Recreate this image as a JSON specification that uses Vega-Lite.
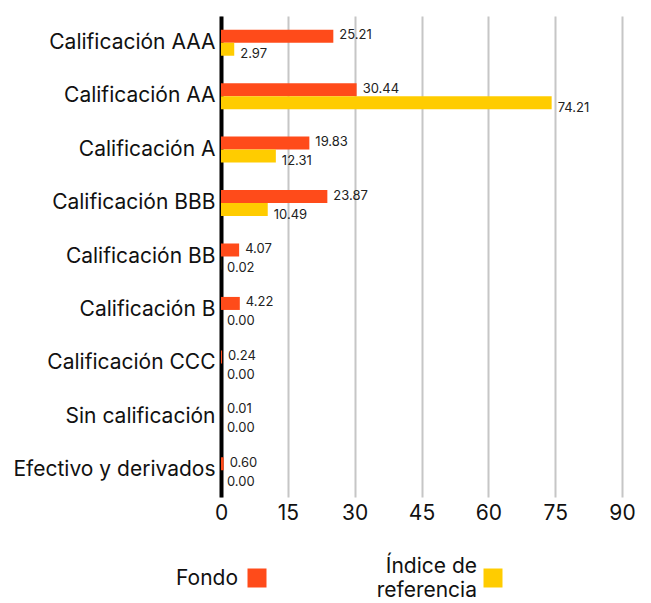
{
  "$schema": "https://vega.github.io/schema/vega-lite/v6.json",
  "padding": {"left": 10, "top": 16, "right": 0, "bottom": 0},
  "config": {
    "view": {"stroke": null},
    "font": "Inter",
    "concat": {"spacing": 26}
  },
  "datasets": {
    "d": [
      {"cat": "Calificación AAA", "serie": "Fondo", "value": 25.21},
      {"cat": "Calificación AAA", "serie": "Índice de referencia", "value": 2.97},
      {"cat": "Calificación AA", "serie": "Fondo", "value": 30.44},
      {"cat": "Calificación AA", "serie": "Índice de referencia", "value": 74.21},
      {"cat": "Calificación A", "serie": "Fondo", "value": 19.83},
      {"cat": "Calificación A", "serie": "Índice de referencia", "value": 12.31},
      {"cat": "Calificación BBB", "serie": "Fondo", "value": 23.87},
      {"cat": "Calificación BBB", "serie": "Índice de referencia", "value": 10.49},
      {"cat": "Calificación BB", "serie": "Fondo", "value": 4.07},
      {"cat": "Calificación BB", "serie": "Índice de referencia", "value": 0.02},
      {"cat": "Calificación B", "serie": "Fondo", "value": 4.22},
      {"cat": "Calificación B", "serie": "Índice de referencia", "value": 0.0},
      {"cat": "Calificación CCC", "serie": "Fondo", "value": 0.24},
      {"cat": "Calificación CCC", "serie": "Índice de referencia", "value": 0.0},
      {"cat": "Sin calificación", "serie": "Fondo", "value": 0.01},
      {"cat": "Sin calificación", "serie": "Índice de referencia", "value": 0.0},
      {"cat": "Efectivo y derivados", "serie": "Fondo", "value": 0.6},
      {"cat": "Efectivo y derivados", "serie": "Índice de referencia", "value": 0.0}
    ],
    "leg": [
      {"serie": "Fondo", "label": "Fondo"},
      {"serie": "Índice de referencia", "label": "Índice de\nreferencia"}
    ]
  },
  "vconcat": [
    {
      "width": 401,
      "height": 481,
      "data": {"name": "d"},
      "encoding": {
        "y": {
          "field": "cat",
          "type": "nominal",
          "sort": ["Calificación AAA", "Calificación AA", "Calificación A", "Calificación BBB", "Calificación BB", "Calificación B", "Calificación CCC", "Sin calificación", "Efectivo y derivados"],
          "scale": {"paddingInner": 0.513, "paddingOuter": 0.2565},
          "axis": {
            "title": null,
            "ticks": false,
            "domainColor": "#000000",
            "domainWidth": 4,
            "labelFontSize": 21,
            "labelColor": "#111111",
            "labelPadding": 6,
            "labelLimit": 300,
            "minExtent": 211,
            "maxExtent": 211
          }
        },
        "x": {
          "field": "value",
          "type": "quantitative",
          "scale": {"domain": [0, 90]},
          "axis": {
            "title": null,
            "values": [0, 15, 30, 45, 60, 75, 90],
            "grid": true,
            "gridColor": "#c6c6c6",
            "gridWidth": 2,
            "domain": false,
            "ticks": false,
            "labelFlush": false,
            "labelFontSize": 21,
            "labelColor": "#111111",
            "labelPadding": 5,
            "minExtent": 30,
            "maxExtent": 30
          }
        },
        "yOffset": {
          "field": "serie",
          "sort": ["Fondo", "Índice de referencia"],
          "scale": {"paddingInner": 0, "paddingOuter": 0}
        }
      },
      "layer": [
        {
          "mark": {"type": "bar"},
          "encoding": {
            "color": {
              "field": "serie",
              "type": "nominal",
              "scale": {"domain": ["Fondo", "Índice de referencia"], "range": ["#FF4B1A", "#FFCC00"]},
              "legend": null
            }
          }
        },
        {
          "transform": [{"filter": "datum.serie === 'Fondo'"}],
          "mark": {"type": "text", "align": "left", "baseline": "middle", "dx": 6, "dy": -1, "fontSize": 13, "color": "#222222"},
          "encoding": {"text": {"field": "value", "type": "quantitative", "format": ".2f"}}
        },
        {
          "transform": [{"filter": "datum.serie !== 'Fondo'"}],
          "mark": {"type": "text", "align": "left", "baseline": "middle", "dx": 6, "dy": 5, "fontSize": 13, "color": "#222222"},
          "encoding": {"text": {"field": "value", "type": "quantitative", "format": ".2f"}}
        }
      ]
    },
    {
      "width": 401,
      "height": 50,
      "data": {"name": "leg"},
      "encoding": {
        "x": {
          "field": "serie",
          "type": "nominal",
          "sort": ["Fondo", "Índice de referencia"],
          "scale": {"type": "point", "range": [36, 272], "padding": 0},
          "axis": null
        }
      },
      "layer": [
        {
          "mark": {"type": "square", "size": 361, "opacity": 1, "filled": true},
          "encoding": {
            "color": {
              "field": "serie",
              "type": "nominal",
              "scale": {"domain": ["Fondo", "Índice de referencia"], "range": ["#FF4B1A", "#FFCC00"]},
              "legend": null
            }
          }
        },
        {
          "transform": [{"filter": "datum.serie === 'Fondo'"}],
          "mark": {"type": "text", "align": "right", "baseline": "middle", "dx": -19, "dy": 1, "fontSize": 21, "color": "#111111"},
          "encoding": {"text": {"field": "label"}}
        },
        {
          "transform": [{"filter": "datum.serie !== 'Fondo'"}],
          "mark": {"type": "text", "align": "right", "baseline": "middle", "dx": -16, "dy": -11, "fontSize": 21, "lineBreak": "\n", "lineHeight": 24, "color": "#111111"},
          "encoding": {"text": {"field": "label"}}
        }
      ]
    }
  ]
}
